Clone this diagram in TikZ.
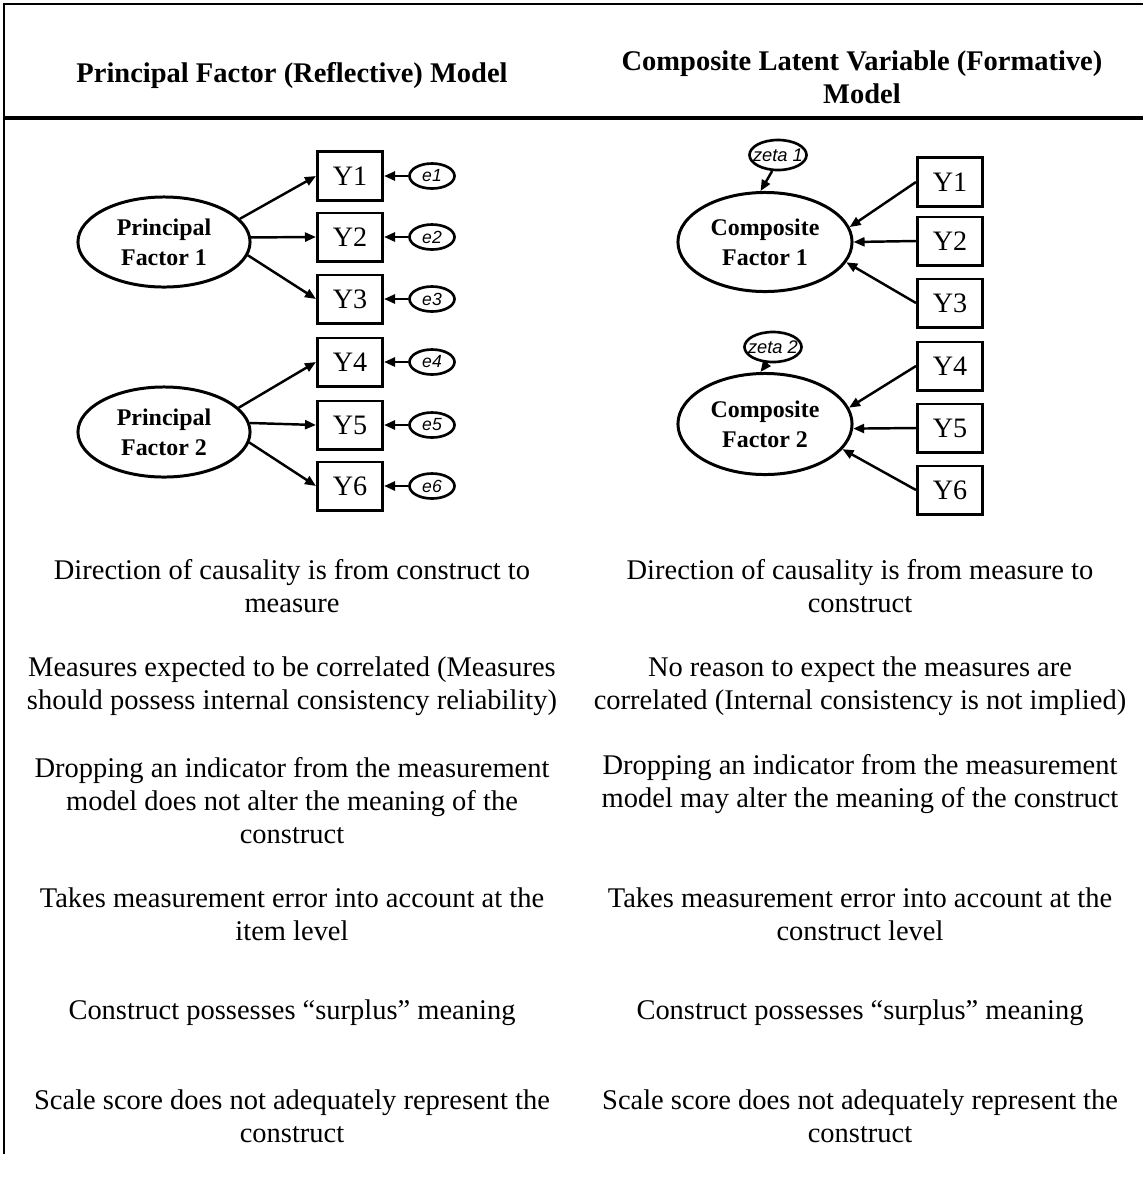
\documentclass[tikz,border=0pt]{standalone}
\usepackage{fontspec}
\setmainfont{Liberation Serif}
\newfontfamily\errfont{Liberation Sans}
\usetikzlibrary{arrows.meta,shapes.geometric,positioning}
\tikzset{
	factor/.style={
			draw, ellipse, line width=0.85pt, inner sep=0pt,
			minimum width=1.72cm, minimum height=0.9cm, align=center,
			font=\bfseries\fontsize{6.8}{8.5}\selectfont
		},
	item/.style={
			draw, rectangle, line width=0.85pt, inner sep=0pt,
			minimum width=0.65cm, minimum height=0.48cm,
			font=\fontsize{8}{9}\selectfont
		},
	err/.style={
			draw, ellipse, line width=0.75pt, inner sep=0pt,
			minimum width=0.45cm, minimum height=0.25cm,
			font=\errfont\itshape\fontsize{5}{6}\selectfont
		},
	zeta/.style={
			draw, ellipse, line width=0.75pt, inner sep=0pt,
			minimum width=0.57cm, minimum height=0.3cm
		},
	head/.style={align=center, font=\bfseries\fontsize{8.1}{9.36}\selectfont},
	body/.style={align=center, font=\fontsize{8.1}{9.36}\selectfont},
	link/.style={->, line width=0.7pt}
}

\begin{document}
\begin{tikzpicture}[x=0.01cm, y=-0.01cm, >={Triangle[length=0.11cm,width=0.09cm]}]
		\useasboundingbox (0,0) rectangle (1143,1178);

		% frame and rule
		\draw[line width=0.5pt] (4,1154) -- (4,4) -- (1143,4);
		\draw[line width=0.9pt] (4,118) -- (1143,118);

		\node[head] (hleft) at (292,75) {Principal Factor (Reflective) Model};
		\node[head] (hright) at (862,77) {Composite Latent Variable (Formative)\\Model};

		% reflective model
		\node[factor] (pf1) at (164,242) {Principal\\Factor 1};
		\node[factor] (pf2) at (164,432) {Principal\\Factor 2};

		\foreach \i/\y in {1/176,2/237,3/299,4/362,5/425,6/486} {
			\node[item] (ly\i) at (350,\y) {Y\i};
			\node[err] (e\i) at (432,\y) {e\i};
			\draw[link] (e\i) -- (ly\i);
		}
		\foreach \i/\a in {1/17,2/3,3/-9} \draw[link] (pf1.\a) -- (ly\i.west);
		\foreach \i/\a in {4/18,5/6,6/-7} \draw[link] (pf2.\a) -- (ly\i.west);

		% formative model
		\node[factor, minimum width=1.74cm, minimum height=0.99cm] (cf1) at (765,242) {Composite\\Factor 1};
		\node[factor, minimum width=1.74cm, minimum height=1.01cm] (cf2) at (765,424) {Composite\\Factor 2};
		\node[zeta, label={[font=\errfont\itshape\fontsize{5.2}{6}\selectfont]center:zeta 1}] (zeta1) at (778,155) {};
		\node[zeta, label={[font=\errfont\itshape\fontsize{5.2}{6}\selectfont]center:zeta 2}] (zeta2) at (773,347) {};
		\draw[link] (zeta1.250) -- (cf1.95);
		\draw[link] (zeta2.250) -- (cf2.95);

		\foreach \i/\y in {1/182,2/241,3/303,4/366,5/428,6/490} {
			\node[item] (ry\i) at (950,\y) {Y\i};
		}
		\foreach \i/\a in {1/10,2/0,3/-14} \draw[link] (ry\i.west) -- (cf1.\a);
		\foreach \i/\a in {4/11,5/-3,6/-18} \draw[link] (ry\i.west) -- (cf2.\a);

		% comparison rows
		\node[body] (l1) at (292,586) {Direction of causality is from construct to\\measure};
		\node[body] (r1) at (860,586) {Direction of causality is from measure to\\construct};
		\node[body] (l2) at (292,686) {Measures expected to be correlated (Measures\\should possess internal consistency reliability)};
		\node[body] (r2) at (860,686) {No reason to expect the measures are\\correlated (Internal consistency is not implied)};
		\node[body] (l3) at (292,801) {Dropping an indicator from the measurement\\model does not alter the meaning of the\\construct};
		\node[body] (r3) at (860,784) {Dropping an indicator from the measurement\\model may alter the meaning of the construct};
		\node[body] (l4) at (292,914) {Takes measurement error into account at the\\item level};
		\node[body] (r4) at (860,914) {Takes measurement error into account at the\\construct level};
		\node[body] (l5) at (292,1013) {Construct possesses “surplus” meaning};
		\node[body] (r5) at (860,1013) {Construct possesses “surplus” meaning};
		\node[body] (l6) at (292,1116) {Scale score does not adequately represent the\\construct};
		\node[body] (r6) at (860,1116) {Scale score does not adequately represent the\\construct};
	\end{tikzpicture}
\end{document}
